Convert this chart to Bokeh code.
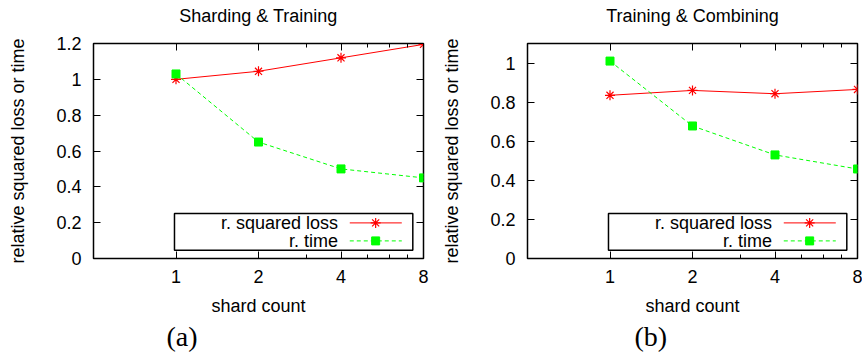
from bokeh.plotting import figure
from bokeh.layouts import row
from bokeh.models import LogAxis, LinearAxis, FixedTicker, Range1d, Title
from bokeh.core.properties import value
from bokeh.embed import file_html
from bokeh.resources import INLINE

# ---------------- data ----------------
shards = [1, 2, 4, 8]
x_tick_labels = ["1", "2", "4", "8"]
x_minor = [3, 5, 6, 7]

loss_a = [1.0, 1.045, 1.12, 1.195]
time_a = [1.03, 0.65, 0.50, 0.45]
loss_b = [0.835, 0.86, 0.843, 0.865]
time_b = [1.01, 0.678, 0.53, 0.458]

yticks_a = [0, 0.2, 0.4, 0.6, 0.8, 1.0, 1.2]
ylabels_a = ["0", "0.2", "0.4", "0.6", "0.8", "1", "1.2"]
yticks_b = [0, 0.2, 0.4, 0.6, 0.8, 1.0]
ylabels_b = ["0", "0.2", "0.4", "0.6", "0.8", "1"]

series_names = ["r. squared loss", "r. time"]
titles = ["Sharding & Training", "Training & Combining"]
sub_labels = ["(a)", "(b)"]

XMIN, XMAX = 0.5, 8
FONT = "Liberation Sans"
FS = "18px"
RED = "#ff0000"
GREEN = "#00ff00"


def make_panel(title, loss, time, yticks, ylabels, ymax, width, bl, br, sub, sub_off):
    p = figure(width=width, height=352, x_axis_type="log",
               x_range=Range1d(XMIN, XMAX), y_range=Range1d(0, ymax),
               output_backend="svg", toolbar_location=None,
               min_border_left=bl, min_border_right=br,
               min_border_top=43, min_border_bottom=94)
    p.title.text = ""
    p.title.standoff = 0
    p.grid.visible = False
    p.outline_line_color = "black"
    p.outline_line_width = 1.5
    p.outline_line_alpha = 1.0

    xt = FixedTicker(ticks=shards, minor_ticks=x_minor)
    yt = FixedTicker(ticks=yticks, minor_ticks=[])
    xo = {s: l for s, l in zip(shards, x_tick_labels)}
    yo = {t: l for t, l in zip(yticks, ylabels)}

    xa = p.xaxis[0]
    xa.ticker = xt
    xa.major_label_overrides = xo
    ya = p.yaxis[0]
    ya.ticker = yt
    ya.major_label_overrides = yo
    xa.axis_label = "shard count"
    ya.axis_label = "relative squared loss or time"

    # mirrored ticks (no tick labels); the top one carries the panel title
    top = LogAxis(ticker=xt, major_label_overrides={s: "" for s in shards},
                  major_label_text_font_size="1px", major_label_standoff=0,
                  axis_label=title, axis_label_standoff=18)
    right = LinearAxis(ticker=yt, major_label_overrides={t: "" for t in yticks},
                       major_label_text_font_size="1px", major_label_standoff=0)
    for ax in (xa, ya, top, right):
        ax.axis_line_color = None
        ax.major_tick_in = 7
        ax.major_tick_out = 0
        ax.minor_tick_in = 4
        ax.minor_tick_out = 0
        ax.major_tick_line_color = "black"
        ax.minor_tick_line_color = "black"
        ax.axis_label_text_font = FONT
        ax.axis_label_text_font_size = FS
        ax.axis_label_text_font_style = "normal"
        ax.axis_label_text_color = "black"
    for ax in (xa, ya):
        ax.major_label_text_font = FONT
        ax.major_label_text_font_size = FS
        ax.major_label_text_color = "black"
    xa.major_label_standoff = 11
    xa.axis_label_standoff = 10
    ya.major_label_standoff = 12
    ya.axis_label_standoff = 25
    p.add_layout(top, "above")
    p.add_layout(right, "right")

    # legend (gnuplot style: text left of sample)
    def xl(f):
        return XMIN * (XMAX / XMIN) ** f

    def yl(f):
        return f * ymax

    p.quad(left=[xl(0.2454)], right=[xl(0.9676)], bottom=[yl(0.0386)], top=[yl(0.2093)],
           fill_color="white", line_color="black", line_width=1.5)
    rows_y = [yl(0.1656), yl(0.0819)]
    p.text(x=[xl(0.7412)] * 2, y=rows_y, text=series_names,
           text_align="right", text_baseline="middle",
           text_font=value(FONT), text_font_size=FS, text_color="black")
    p.line([xl(0.7766), xl(0.9342)], [rows_y[0]] * 2, line_color=RED, line_width=1)
    p.scatter([xl(0.855)], [rows_y[0]], marker="asterisk", size=10,
              line_color=RED, line_width=1.2)
    p.line([xl(0.7766), xl(0.9342)], [rows_y[1]] * 2, line_color=GREEN,
           line_width=1, line_dash="4 3")
    p.scatter([xl(0.855)], [rows_y[1]], marker="square", size=8,
              fill_color=GREEN, line_color=GREEN)

    # data
    p.line(shards, loss, line_color=RED, line_width=1)
    p.scatter(shards, loss, marker="asterisk", size=10, line_color=RED, line_width=1.2)
    p.line(shards, time, line_color=GREEN, line_width=1, line_dash="4 3")
    p.scatter(shards, time, marker="square", size=8, fill_color=GREEN, line_color=GREEN)

    p.add_layout(Title(text=sub, align="left", offset=sub_off, standoff=0,
                       text_font="Liberation Serif", text_font_size="28px",
                       text_font_style="normal", text_color="black"), "below")
    return p


pa = make_panel(titles[0], loss_a, time_a, yticks_a, ylabels_a, 1.2, 438, 93, 15,
                sub_labels[0], 73)
pb = make_panel(titles[1], loss_b, time_b, yticks_b, ylabels_b, 1.1, 424, 89, 5,
                sub_labels[1], 107)

layout = row(pa, pb)
open("out.html", "w").write(file_html(layout, INLINE))
